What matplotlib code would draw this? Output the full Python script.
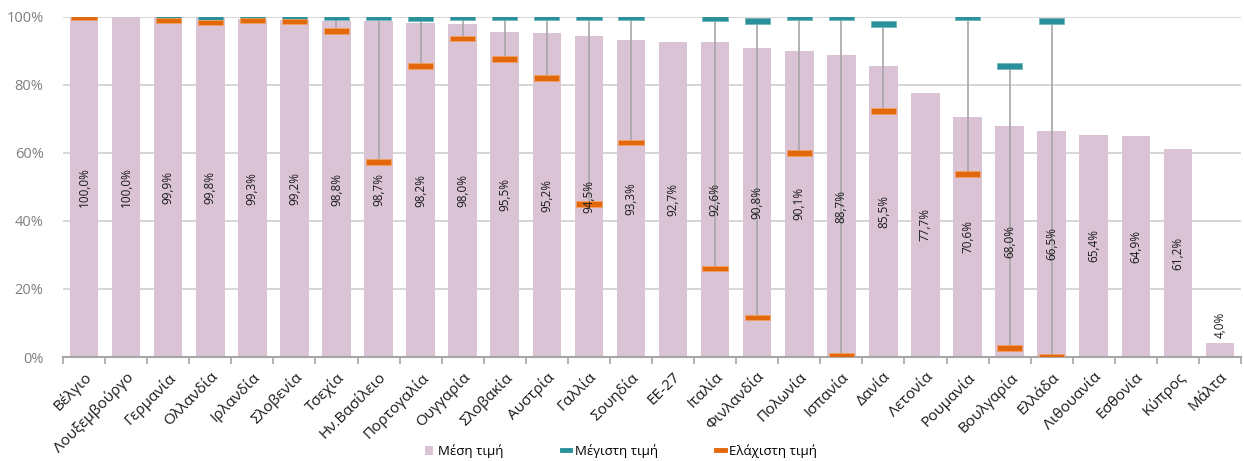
import numpy as np
import matplotlib
matplotlib.use("Agg")
import matplotlib.pyplot as plt
from matplotlib.patches import Patch
from matplotlib.lines import Line2D

plt.rcParams['font.family'] = ['Open Sans', 'DejaVu Sans']

countries = ["Βέλγιο", "Λουξεμβούργο", "Γερμανία", "Ολλανδία", "Ιρλανδία", "Σλοβενία",
             "Τσεχία", "Ην.Βασίλειο", "Πορτογαλία", "Ουγγαρία", "Σλοβακία", "Αυστρία",
             "Γαλλία", "Σουηδία", "ΕΕ-27", "Ιταλία", "Φινλανδία", "Πολωνία", "Ισπανία",
             "Δανία", "Λετονία", "Ρουμανία", "Βουλγαρία", "Ελλάδα", "Λιθουανία",
             "Εσθονία", "Κύπρος", "Μάλτα"]
mean_vals = [100.0, 100.0, 99.9, 99.8, 99.3, 99.2, 98.8, 98.7, 98.2, 98.0, 95.5, 95.2,
             94.5, 93.3, 92.7, 92.6, 90.8, 90.1, 88.7, 85.5, 77.7, 70.6, 68.0, 66.5,
             65.4, 64.9, 61.2, 4.0]
nan = np.nan
max_vals = [100.0, nan, 100.0, 100.0, 99.9, 99.9, 100.0, 100.0, 99.7, 100.0, 100.0, 100.0,
            100.0, 100.0, nan, 99.7, 98.8, 100.0, 100.0, 97.9, nan, 100.0, 85.5, 98.8,
            nan, nan, nan, nan]
min_vals = [100.0, nan, 99.0, 98.4, 99.0, 98.7, 95.9, 57.4, 85.6, 93.7, 87.7, 82.0,
            45.1, 63.1, nan, 26.0, 11.6, 60.0, 0.4, 72.4, nan, 53.9, 2.6, 0.1,
            nan, nan, nan, nan]

bar_color = "#D9C3D4"
teal = "#2A9099"
orange = "#E3680C"

fig = plt.figure(figsize=(12.44, 4.61), dpi=100)
ax = fig.add_axes([63/1244, 1 - 357/461, (1241-63)/1244, (357-17)/461])

x = np.arange(len(countries))
ax.bar(x, mean_vals, width=0.68, color=bar_color, zorder=2)

mx = np.array(max_vals)
mn = np.array(min_vals)
ok = ~np.isnan(mx) & ~np.isnan(mn)
ax.vlines(x[ok], mn[ok], mx[ok], color="#A6A6A6", lw=1.2, zorder=3)
h = 1.7
ax.bar(x, h, bottom=mx - h/2, width=0.6, color=teal, edgecolor="#6FB6BC", lw=0.6, zorder=4)
ax.bar(x, h, bottom=mn - h/2, width=0.6, color=orange, edgecolor="#F0A060", lw=0.6, zorder=5)

for xi, v in zip(x, mean_vals):
    lab = f"{v:.1f}%".replace(".", ",")
    if v > 20:
        ax.text(xi, v/2, lab, rotation=90, ha="center", va="center", fontsize=8.5, color="#1A1A1A", zorder=6)
    else:
        ax.text(xi, v + 1.5, lab, rotation=90, ha="center", va="bottom", fontsize=8.5, color="#1A1A1A", zorder=6)

ax.set_xlim(-0.5, len(countries) - 0.5)
ax.set_ylim(0, 100)
ax.set_yticks(np.arange(0, 101, 20))
ax.set_yticklabels([f"{t}%" for t in range(0, 101, 20)], fontsize=10.5, color="#7F7F7F")
ax.yaxis.grid(True, color="#D0D0D0", lw=1.2, zorder=0)
ax.set_axisbelow(True)
ax.tick_params(axis="y", length=0, pad=14)

ax.set_xticks(x)
ax.set_xticklabels(countries, rotation=45, ha="right", rotation_mode="anchor", fontsize=11, color="#1A1A1A")
ax.set_xticks(np.arange(-0.5, len(countries), 1), minor=True)
ax.tick_params(axis="x", which="major", length=0, pad=9)
ax.tick_params(axis="x", which="minor", length=5, width=1.2, color="#A6A6A6")

for s in ["top", "right", "left"]:
    ax.spines[s].set_visible(False)
ax.spines["bottom"].set_color("#A6A6A6")
ax.spines["bottom"].set_linewidth(1.5)

handles = [Patch(facecolor=bar_color, edgecolor="none"),
           Line2D([], [], color=teal, lw=3.5),
           Line2D([], [], color=orange, lw=3.5)]
labels = ["Μέση τιμή", "Μέγιστη τιμή", "Ελάχιστη τιμή"]
fig.legend(handles, labels, loc="center", bbox_to_anchor=(621/1244, 1 - 451/461), ncol=3,
           frameon=False, fontsize=9.5, handlelength=0.65, handleheight=0.65,
           columnspacing=4.4, handletextpad=0.35)

fig.savefig("out.png", dpi=100)
